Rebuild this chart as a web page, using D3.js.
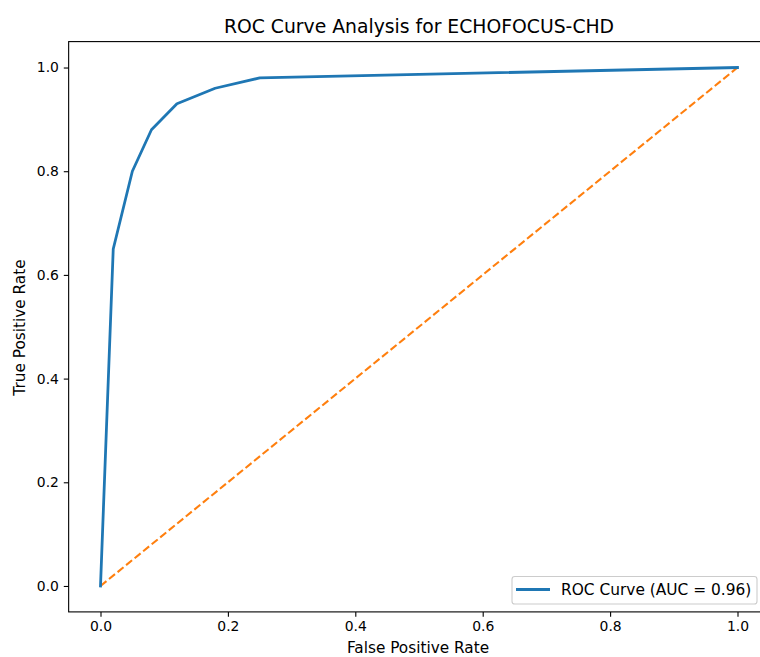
<!DOCTYPE html>
<html>
<head>
<meta charset="utf-8">
<script src="https://cdn.jsdelivr.net/npm/d3@7"></script>
<style>
  html, body { margin: 0; padding: 0; background: #fff; overflow: hidden; }
  svg { display: block; }
  text { font-family: "DejaVu Sans", sans-serif; fill: #000; }
</style>
</head>
<body>
<script>
// Data
const fpr = [0.0, 0.02, 0.05, 0.08, 0.12, 0.18, 0.25, 1.0];
const tpr = [0.0, 0.65, 0.80, 0.88, 0.93, 0.96, 0.98, 1.0];
const diagX = [0, 1];
const diagY = [0, 1];
const xTicks = [0.0, 0.2, 0.4, 0.6, 0.8, 1.0];
const yTicks = [0.0, 0.2, 0.4, 0.6, 0.8, 1.0];
const titleText = "ROC Curve Analysis for ECHOFOCUS-CHD";
const xLabel = "False Positive Rate";
const yLabel = "True Positive Rate";
const legendLabel = "ROC Curve (AUC = 0.96)";

const W = 760, H = 657;
const ax = { left: 68.65, top: 41.6, right: 769.35, bottom: 611.9 };

const svg = d3.select("body").append("svg").attr("width", W).attr("height", H);

const x = d3.scaleLinear().domain([-0.05, 1.05]).range([ax.left, ax.right]);
const y = d3.scaleLinear().domain([-0.05, 1.05]).range([ax.bottom, ax.top]);

// Lines
const line = d3.line().x(d => x(d[0])).y(d => y(d[1]));

svg.append("path")
  .datum(diagX.map((v, i) => [v, diagY[i]]))
  .attr("d", line)
  .attr("fill", "none")
  .attr("stroke", "#ff7f0e")
  .attr("stroke-width", 2.08)
  .attr("stroke-dasharray", "7.7,3.3");

svg.append("path")
  .datum(fpr.map((v, i) => [v, tpr[i]]))
  .attr("d", line)
  .attr("fill", "none")
  .attr("stroke", "#1f77b4")
  .attr("stroke-width", 2.78)
  .attr("stroke-linejoin", "round")
  .attr("stroke-linecap", "square");

// Spines
svg.append("rect")
  .attr("x", ax.left).attr("y", ax.top)
  .attr("width", ax.right - ax.left).attr("height", ax.bottom - ax.top)
  .attr("fill", "none").attr("stroke", "#000").attr("stroke-width", 1.1);

// Axes
const xAxis = d3.axisBottom(x).tickValues(xTicks).tickFormat(d3.format(".1f")).tickSize(4.86).tickPadding(4.86);
const yAxis = d3.axisLeft(y).tickValues(yTicks).tickFormat(d3.format(".1f")).tickSize(4.86).tickPadding(4.86);

const gx = svg.append("g").attr("transform", `translate(0,${ax.bottom})`).call(xAxis);
const gy = svg.append("g").attr("transform", `translate(${ax.left},0)`).call(yAxis);
[gx, gy].forEach(g => {
  g.select(".domain").remove();
  g.selectAll(".tick line").attr("stroke", "#000").attr("stroke-width", 1.1);
  g.selectAll(".tick text").attr("font-size", 13.9).attr("font-family", "DejaVu Sans").attr("fill", "#000");
});

// Title & labels
svg.append("text")
  .attr("x", (ax.left + ax.right) / 2).attr("y", 32.5)
  .attr("text-anchor", "middle").attr("font-size", 18.8)
  .text(titleText);

svg.append("text")
  .attr("x", 418).attr("y", 653)
  .attr("text-anchor", "middle").attr("font-size", 15.3)
  .text(xLabel);

svg.append("text")
  .attr("transform", `translate(25,327.5) rotate(-90)`)
  .attr("text-anchor", "middle").attr("font-size", 15.3)
  .text(yLabel);

// Legend
const lg = svg.append("g");
lg.append("rect")
  .attr("x", 512).attr("y", 576.5).attr("width", 245).attr("height", 27.5)
  .attr("rx", 2.8).attr("ry", 2.8)
  .attr("fill", "#fff").attr("fill-opacity", 0.8)
  .attr("stroke", "#cccccc").attr("stroke-width", 1.1);
lg.append("line")
  .attr("x1", 516).attr("x2", 550).attr("y1", 589.5).attr("y2", 589.5)
  .attr("stroke", "#1f77b4").attr("stroke-width", 2.78);
lg.append("text")
  .attr("x", 561).attr("y", 595).attr("font-size", 15.4)
  .text(legendLabel);
</script>
</body>
</html>
